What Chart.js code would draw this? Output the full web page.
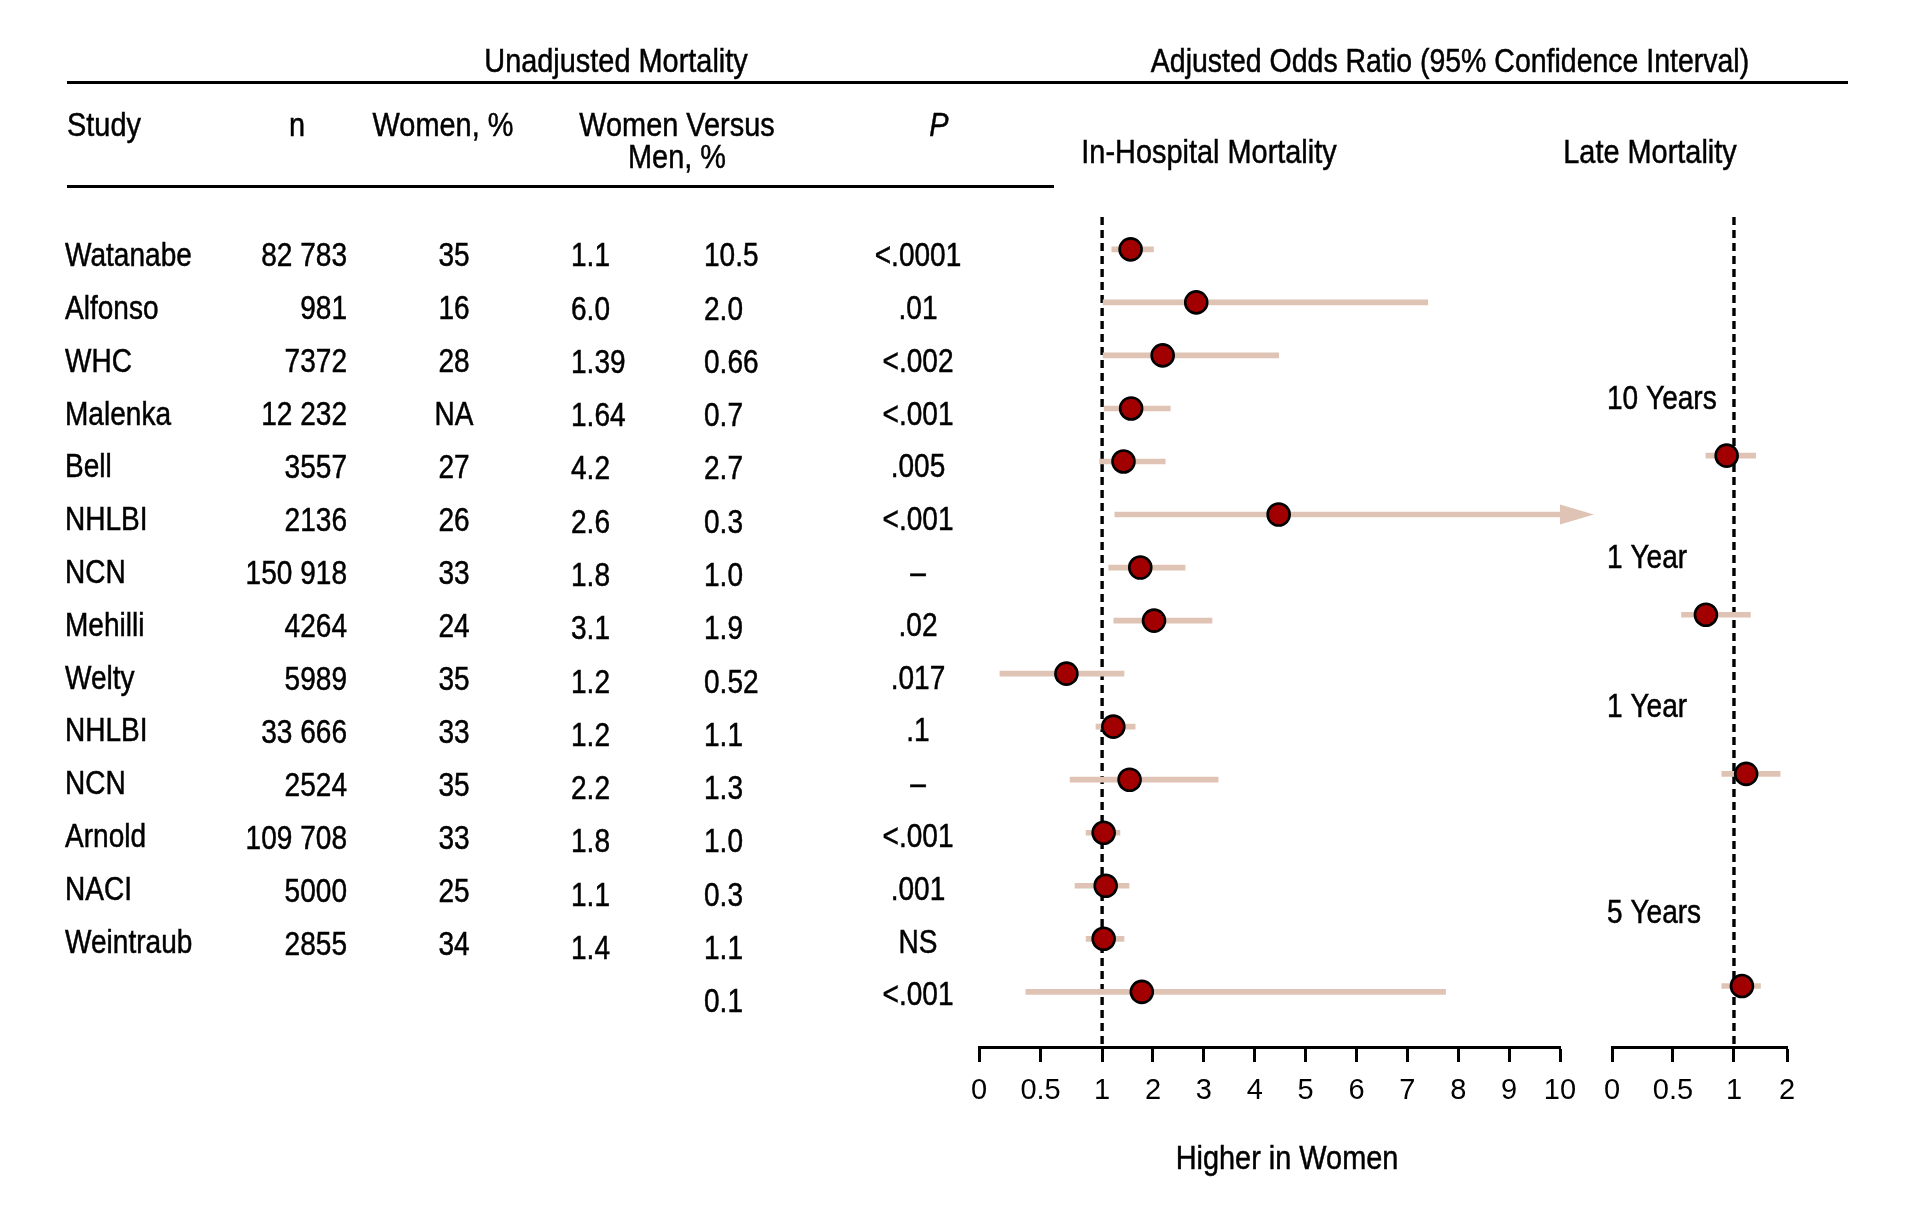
<!DOCTYPE html>
<html>
<head>
<meta charset="utf-8">
<title>Mortality in women versus men</title>
<script src="https://cdn.jsdelivr.net/npm/chart.js@4.4.1/dist/chart.umd.min.js"></script>
<style>
  html, body { margin: 0; padding: 0; background: #fff; }
  .layer { position: absolute; left: 0; top: 0; width: 1905px; height: 1221px; }
</style>
</head>
<body>
<div class="layer"><canvas id="hospChart"></canvas></div>
<div class="layer"><canvas id="lateChart"></canvas></div>
<script>
// table columns
const studies = ['Watanabe', 'Alfonso', 'WHC', 'Malenka', 'Bell', 'NHLBI', 'NCN', 'Mehilli',
  'Welty', 'NHLBI', 'NCN', 'Arnold', 'NACI', 'Weintraub'];
const nValues = ['82 783', '981', '7372', '12 232', '3557', '2136', '150 918', '4264',
  '5989', '33 666', '2524', '109 708', '5000', '2855'];
const womenPct = ['35', '16', '28', 'NA', '27', '26', '33', '24', '35', '33', '35', '33', '25', '34'];
const mortWomen = ['1.1', '6.0', '1.39', '1.64', '4.2', '2.6', '1.8', '3.1', '1.2', '1.2', '2.2', '1.8', '1.1', '1.4'];
const mortMen = ['10.5', '2.0', '0.66', '0.7', '2.7', '0.3', '1.0', '1.9', '0.52', '1.1', '1.3', '1.0', '0.3', '1.1', '0.1'];
const pValues = ['<.0001', '.01', '<.002', '<.001', '.005', '<.001', '–', '.02', '.017', '.1', '–', '<.001', '.001', 'NS', '<.001'];

// in-hospital adjusted odds ratios (one per row)
const hospOR   = [1.56, 2.85, 2.19, 1.57, 1.42, 4.47, 1.75, 2.02, 0.71, 1.22, 1.54, 1.03, 1.07, 1.03, 1.78];
const hospLow  = [1.19, 1.02, 1.02, 1.04, 0.98, 1.25, 1.13, 1.23, 0.17, 0.95, 0.74, 0.87, 0.78, 0.87, 0.38];
const hospHigh = [2.01, 7.40, 4.47, 2.34, 2.24, 10,   2.63, 3.16, 1.43, 1.65, 3.28, 1.35, 1.53, 1.43, 7.75];
const hospOffScale = [5]; // rows whose upper limit runs past the axis

// late mortality
const lateRows   = [4, 7, 10, 14];
const lateOR     = [0.94, 0.77, 1.23, 1.15];
const lateLow    = [0.77, 0.57, 0.90, 0.90];
const lateHigh   = [1.41, 1.31, 1.87, 1.50];
const lateLabels = ['10 Years', '1 Year', '1 Year', '5 Years'];
const lateLabelRows = [2.96, 5.97, 8.78, 12.67];

const hospTicks = [0, 0.5, 1, 2, 3, 4, 5, 6, 7, 8, 9, 10];
const lateTicks = [0, 0.5, 1, 2];

const FONT = "'Liberation Sans', Arial, sans-serif";
const NARROW = 0.85; // squeeze to look like a condensed face
const DOT = '#a20000';
const BAR = '#dfc4b6';

Chart.defaults.font.family = FONT;
Chart.defaults.color = '#000';

// axis that stretches 0..1 and keeps 1..max linear
class WarpScale extends Chart.LinearScale {
  warp(v) { const k = this.options.belowOne || 2.4; return v <= 1 ? v * k : k + (v - 1); }
  unwarp(t) { const k = this.options.belowOne || 2.4; return t <= k ? t / k : 1 + (t - k); }
  getPixelForValue(value) {
    const lo = this.warp(this.min), hi = this.warp(this.max);
    return this.getPixelForDecimal((this.warp(value) - lo) / (hi - lo));
  }
  getValueForPixel(pixel) {
    const lo = this.warp(this.min), hi = this.warp(this.max);
    return this.unwarp(lo + this.getDecimalForPixel(pixel) * (hi - lo));
  }
}
WarpScale.id = 'warp';
WarpScale.defaults = Chart.LinearScale.defaults;
Chart.register(WarpScale);

function drawText(ctx, str, x, y, align, size, italic) {
  ctx.save();
  ctx.font = (italic ? 'italic ' : '') + size + 'px ' + FONT;
  ctx.textAlign = align;
  ctx.textBaseline = 'alphabetic';
  ctx.translate(x, y);
  ctx.scale(NARROW, 1);
  ctx.fillText(str, 0, 0);
  ctx.lineWidth = 0.5;
  ctx.strokeStyle = ctx.fillStyle;
  ctx.strokeText(str, 0, 0);
  ctx.restore();
}

function refLine(chart, dash) {
  const ctx = chart.ctx, x = chart.scales.x.getPixelForValue(1), area = chart.chartArea;
  ctx.save();
  ctx.strokeStyle = '#000';
  ctx.lineWidth = 3.4;
  ctx.setLineDash(dash);
  ctx.beginPath();
  ctx.moveTo(x, area.top);
  ctx.lineTo(x, area.bottom);
  ctx.stroke();
  ctx.restore();
}

const tablePlugin = {
  id: 'tableText',
  beforeDatasetsDraw(chart) { refLine(chart, [8, 5]); },
  afterDatasetsDraw(chart) {
    const ctx = chart.ctx, xs = chart.scales.x, ys = chart.scales.y;
    ctx.save();
    ctx.fillStyle = BAR;
    hospOffScale.forEach(r => {
      const x = xs.getPixelForValue(10), y = ys.getPixelForValue(r);
      ctx.beginPath();
      ctx.moveTo(x, y - 10);
      ctx.lineTo(x + 34, y);
      ctx.lineTo(x, y + 10);
      ctx.closePath();
      ctx.fill();
    });
    ctx.restore();
  },
  afterDraw(chart) {
    const ctx = chart.ctx, ys = chart.scales.y;
    ctx.save();
    ctx.fillStyle = '#000';
    ctx.fillRect(67, 81, 1781, 3);
    ctx.fillRect(67, 185, 987, 3);

    drawText(ctx, 'Unadjusted Mortality', 616, 72, 'center', 34);
    drawText(ctx, 'Adjusted Odds Ratio (95% Confidence Interval)', 1450, 72, 'center', 33.5);
    drawText(ctx, 'Study', 67, 136, 'left', 34);
    drawText(ctx, 'n', 297, 136, 'center', 34);
    drawText(ctx, 'Women, %', 443, 136, 'center', 34);
    drawText(ctx, 'Women Versus', 677, 136, 'center', 34);
    drawText(ctx, 'Men, %', 677, 168, 'center', 34);
    drawText(ctx, 'P', 939, 136, 'center', 34, true);
    drawText(ctx, 'In-Hospital Mortality', 1209, 163, 'center', 34);
    drawText(ctx, 'Late Mortality', 1650, 163, 'center', 34);
    drawText(ctx, 'Higher in Women', 1287, 1169, 'center', 34);

    const rowY = i => ys.getPixelForValue(i) + 17 - i * 0.25;
    studies.forEach((s, i) => {
      drawText(ctx, s, 65, rowY(i), 'left', 33);
      drawText(ctx, nValues[i], 347, rowY(i) + i * 0.15, 'right', 33);
      drawText(ctx, womenPct[i], 454, rowY(i) + i * 0.15, 'center', 33);
      drawText(ctx, mortWomen[i], 571, rowY(i) + i * 0.5, 'left', 33);
    });
    mortMen.forEach((s, i) => {
      drawText(ctx, s, 704, rowY(i) + i * 0.5, 'left', 33);
    });
    pValues.forEach((s, i) => {
      drawText(ctx, s, 918, rowY(i), 'center', 33);
    });
    ctx.restore();
  }
};

const latePlugin = {
  id: 'lateText',
  beforeDatasetsDraw(chart) { refLine(chart, [8, 5]); },
  afterDraw(chart) {
    const ctx = chart.ctx, ys = chart.scales.y;
    ctx.save();
    ctx.fillStyle = '#000';
    lateLabels.forEach((s, i) => {
      drawText(ctx, s, 1607, ys.getPixelForValue(lateLabelRows[i]) + 8, 'left', 33);
    });
    ctx.restore();
  }
};

function xAxis(ticks, max, k) {
  return {
    type: 'warp',
    belowOne: k,
    min: 0,
    max: max,
    offset: false,
    afterBuildTicks: axis => { axis.ticks = ticks.map(v => ({ value: v })); },
    afterFit: axis => { axis.height = 174; },
    border: { display: true, color: '#000', width: 3 },
    grid: { offset: false, drawOnChartArea: false, drawTicks: true, tickLength: 15, tickWidth: 3, tickColor: '#000' },
    ticks: {
      autoSkip: false,
      maxRotation: 0,
      padding: 12,
      color: '#000',
      font: { size: 29, family: FONT },
      callback: v => String(v)
    }
  };
}

function yAxis(min, max) {
  return { type: 'linear', display: false, offset: false, min: min, max: max, reverse: true };
}

function forestConfig(rows, est, low, high, ticks, max, k, pad, yRange, plugin) {
  return {
    type: 'scatter',
    data: {
      datasets: [
        {
          type: 'scatter',
          order: 1,
          data: rows.map((r, i) => ({ x: est[i], y: r })),
          pointRadius: 11,
          pointBorderWidth: 2.6,
          pointBackgroundColor: DOT,
          pointBorderColor: '#000'
        },
        {
          type: 'bar',
          order: 2,
          indexAxis: 'y',
          data: rows.map((r, i) => ({ x: [low[i], high[i]], y: r })),
          backgroundColor: BAR,
          borderWidth: 0,
          barThickness: 5
        }
      ]
    },
    options: {
      responsive: true,
      maintainAspectRatio: false,
      animation: false,
      layout: { padding: pad },
      plugins: { legend: { display: false }, tooltip: { enabled: false } },
      scales: { x: xAxis(ticks, max, k), y: yAxis(yRange[0], yRange[1]) }
    },
    plugins: [plugin]
  };
}

const hospRows = hospOR.map((v, i) => i);

new Chart(document.getElementById('hospChart'),
  forestConfig(hospRows, hospOR, hospLow, hospHigh, hospTicks, 10, 2.42,
    { left: 979, right: 345, top: 217, bottom: 0 }, [-0.61, 15.04], tablePlugin));

new Chart(document.getElementById('lateChart'),
  forestConfig(lateRows, lateOR, lateLow, lateHigh, lateTicks, 2, 2.3,
    { left: 1612, right: 118, top: 217, bottom: 0 }, [-0.5, 15.15], latePlugin));
</script>
</body>
</html>
